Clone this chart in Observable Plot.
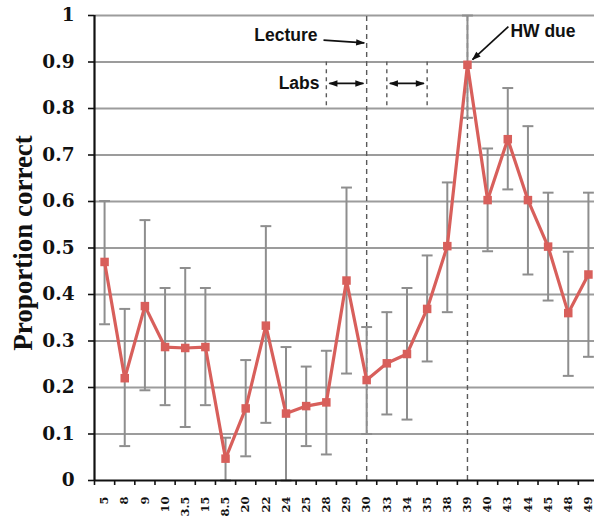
<!DOCTYPE html>
<html>
<head>
<meta charset="utf-8">
<script src="https://cdn.jsdelivr.net/npm/d3@7"></script>
<script src="https://cdn.jsdelivr.net/npm/@observablehq/plot@0.6"></script>
<style>
  html, body { margin: 0; padding: 0; background: #fff; }
  #chart svg { display: block; }
</style>
</head>
<body>
<div id="chart"></div>
<script>
// ---- data ----
const labels = ["5","8","9","10","3.5","15","8.5","20","22","24","25","28","29","30","33","34","35","38","39","40","43","44","45","48","49"];
const means  = [0.47,0.22,0.375,0.287,0.285,0.287,0.047,0.155,0.333,0.144,0.16,0.168,0.43,0.216,0.252,0.272,0.369,0.504,0.894,0.603,0.734,0.603,0.503,0.36,0.443];
const lows   = [0.336,0.074,0.194,0.162,0.115,0.162,0,0.052,0.124,0,0.074,0.056,0.23,0.10,0.142,0.131,0.256,0.362,0.78,0.493,0.626,0.443,0.387,0.225,0.266];
const highs  = [0.601,0.369,0.56,0.414,0.457,0.414,0.092,0.259,0.547,0.287,0.245,0.279,0.63,0.33,0.362,0.414,0.484,0.641,1.0,0.714,0.844,0.762,0.619,0.492,0.619];
const yTicks = [0,0.1,0.2,0.3,0.4,0.5,0.6,0.7,0.8,0.9,1];
const yTickLabels = ["0","0.1","0.2","0.3","0.4","0.5","0.6","0.7","0.8","0.9","1"];
// event markers (category labels)
const lectureAt = "30";
const hwDueAt = "39";
const labBounds = ["28","33","35"];
const labSpans = [["28","30"],["33","35"]];

const data = labels.map((l, i) => ({i, label: l, mean: means[i], lo: lows[i], hi: highs[i]}));
const idx = l => labels.indexOf(l);
const xBounds = d3.range(labels.length + 1).map(k => k - 0.5);

const red = "#d85f5b";
const grey = "#8e8e8e";
const sans = "'Liberation Sans', Arial, sans-serif";
const serif = "'Liberation Serif', 'Times New Roman', serif";
const wideSerif = "'DejaVu Serif', serif";

// filled arrowhead marker
function filledArrow(color) {
  const m = d3.create("svg:marker")
    .attr("viewBox", "-5 -5 10 10")
    .attr("refX", 4)
    .attr("markerUnits", "userSpaceOnUse")
    .attr("markerWidth", 9)
    .attr("markerHeight", 9)
    .attr("orient", "auto-start-reverse")
    .attr("overflow", "visible");
  m.append("path").attr("fill", color).attr("stroke", "none").attr("d", "M-5,-3.6L5,0L-5,3.6Z");
  return m.node();
}

const chart = Plot.plot({
  width: 594,
  height: 520,
  marginLeft: 94,
  marginRight: 0,
  marginTop: 15,
  marginBottom: 40,
  style: {fontFamily: serif, background: "#fff"},
  x: {type: "linear", domain: [-0.5, labels.length - 0.5], range: [94, 598]},
  y: {domain: [0, 1]},
  marks: [
    // horizontal gridlines
    Plot.ruleY(yTicks.slice(1), {x1: -0.5, x2: labels.length - 0.5, stroke: "#9c9c9c", strokeWidth: 1.8}),
    // lecture & HW due dashed lines
    Plot.ruleX([idx(lectureAt), idx(hwDueAt)], {y1: 0, y2: 1, stroke: "#5a5a5a", strokeWidth: 1.4, strokeDasharray: "5,4"}),
    // lab dashed lines (short)
    Plot.ruleX(labBounds.map(idx), {y1: 0.806, y2: 0.9, stroke: "#5a5a5a", strokeWidth: 1.4, strokeDasharray: "4,4"}),
    // error bars
    Plot.ruleX(data, {x: "i", y1: "lo", y2: "hi", stroke: grey, strokeWidth: 2}),
    Plot.link(data, {x1: d => d.i - 0.27, x2: d => d.i + 0.27, y1: "hi", y2: "hi", stroke: grey, strokeWidth: 2}),
    Plot.link(data, {x1: d => d.i - 0.27, x2: d => d.i + 0.27, y1: "lo", y2: "lo", stroke: grey, strokeWidth: 2}),
    // series line and square markers
    Plot.line(data, {x: "i", y: "mean", stroke: red, strokeWidth: 3.2}),
    Plot.dot(data, {x: "i", y: "mean", symbol: "square", r: 4.8, fill: red, stroke: "none"}),
    // annotations
    Plot.text(["Lecture"], {x: idx(lectureAt) - 2.44, y: 0.957, text: d => d, textAnchor: "end", fontFamily: sans, fontWeight: "bold", fontSize: 17.5, fill: "#111"}),
    Plot.link([0], {x1: idx(lectureAt) - 2.14, y1: 0.947, x2: idx(lectureAt) - 0.12, y2: 0.941, stroke: "#111", strokeWidth: 1.7, markerEnd: filledArrow}),
    Plot.text(["Labs"], {x: idx("28") - 0.34, y: 0.854, text: d => d, textAnchor: "end", fontFamily: sans, fontWeight: "bold", fontSize: 17.5, fill: "#111"}),
    Plot.link(labSpans, {x1: d => idx(d[0]) + 0.15, x2: d => idx(d[1]) - 0.16, y1: 0.854, y2: 0.854, stroke: "#111", strokeWidth: 1.6, markerStart: filledArrow, markerEnd: filledArrow}),
    Plot.text(["HW due"], {x: idx(hwDueAt) + 2.13, y: 0.966, text: d => d, textAnchor: "start", fontFamily: sans, fontWeight: "bold", fontSize: 17.5, fill: "#111"}),
    Plot.link([0], {x1: idx(hwDueAt) + 2.03, y1: 0.976, x2: idx(hwDueAt) + 0.25, y2: 0.905, stroke: "#111", strokeWidth: 1.7, markerEnd: filledArrow}),
    // axes: tick marks
    Plot.axisY({ticks: yTicks, tickFormat: () => "", tickSize: 6, stroke: "#111", strokeWidth: 1.6, label: null}),
    Plot.axisX({ticks: xBounds, tickFormat: () => "", tickSize: 5, stroke: "#111", strokeWidth: 1.6, label: null}),
    // axes: tick labels
    Plot.text(yTicks, {x: -0.5, y: d => d, text: (d, k) => yTickLabels[k], dx: -20, textAnchor: "end", fontFamily: wideSerif, fontWeight: "bold", fontSize: 18.5, fill: "#111"}),
    Plot.text(data, {x: "i", y: 0, text: "label", rotate: -90, dy: 16, textAnchor: "end", lineAnchor: "middle", fontFamily: wideSerif, fontWeight: "bold", fontSize: 11.5, fill: "#111"}),
    // axis lines
    Plot.ruleX([-0.5], {y1: 0, y2: 1, stroke: "#111", strokeWidth: 2.2}),
    Plot.ruleY([0], {x1: -0.5, x2: labels.length - 0.5, stroke: "#111", strokeWidth: 2.2}),
    Plot.text(["Proportion correct"], {frameAnchor: "left", dx: -71, dy: -5, rotate: -90, textAnchor: "middle", lineAnchor: "middle", text: d => d, fontFamily: serif, fontWeight: "bold", fontSize: 27, fill: "#111"})
  ]
});
document.getElementById("chart").appendChild(chart);
</script>
</body>
</html>
